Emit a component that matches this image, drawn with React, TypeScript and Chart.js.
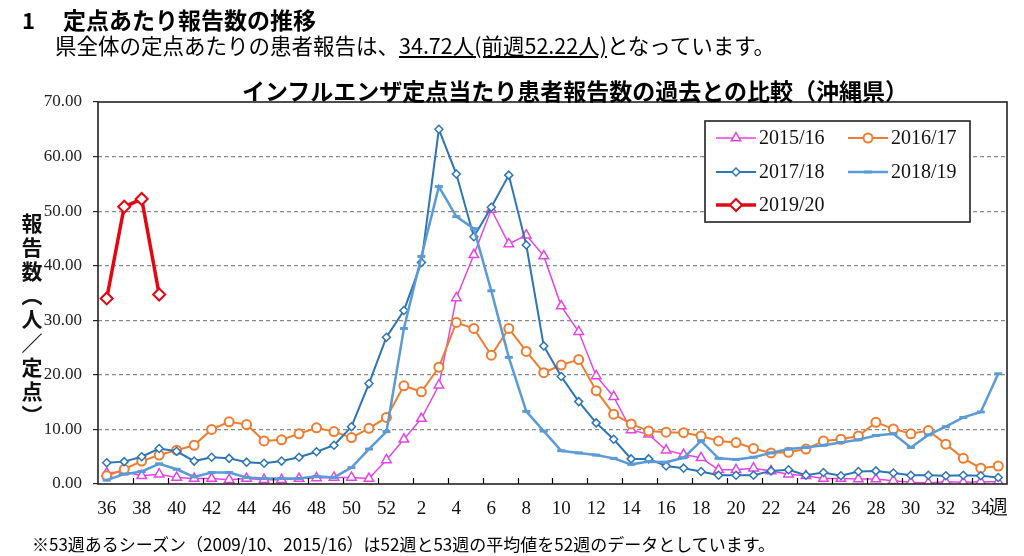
import React, { useEffect, useRef } from 'react';
import { Chart, registerables } from 'chart.js';

Chart.register(...registerables);

const weeks = [
  '36', '37', '38', '39', '40', '41', '42', '43', '44', '45', '46', '47', '48', '49', '50', '51', '52',
  '1', '2', '3', '4', '5', '6', '7', '8', '9', '10', '11', '12', '13', '14', '15', '16', '17', '18',
  '19', '20', '21', '22', '23', '24', '25', '26', '27', '28', '29', '30', '31', '32', '33', '34', '35',
];

const xTickLabels = [
  '36', '', '38', '', '40', '', '42', '', '44', '', '46', '', '48', '', '50', '', '52',
  '', '2', '', '4', '', '6', '', '8', '', '10', '', '12', '', '14', '', '16', '', '18',
  '', '20', '', '22', '', '24', '', '26', '', '28', '', '30', '', '32', '', '34', '週',
];

const season1516 = [
  2.0, 2.3, 1.5, 1.8, 1.2, 1.0, 1.0, 0.8, 1.0, 0.8, 0.8, 1.0, 1.1, 1.2, 1.2, 1.0, 4.4,
  8.2, 12.0, 18.1, 34.1, 42.0, 50.3, 44.0, 45.6, 41.8, 32.6, 27.9, 19.8, 16.0, 9.9, 9.1, 6.2, 5.4, 4.8,
  2.6, 2.6, 2.9, 2.4, 1.8, 1.5, 1.0, 1.0, 0.9, 0.9, 0.6, 0.3, 0.2, 0.4, 0.3, 0.4, 0.4,
];

const season1617 = [
  1.5, 2.7, 4.2, 5.3, 6.2, 7.1, 10.0, 11.4, 10.9, 7.9, 8.1, 9.2, 10.3, 9.6, 8.5, 10.2, 12.2,
  18.0, 16.9, 21.4, 29.6, 28.5, 23.6, 28.5, 24.3, 20.4, 21.8, 22.8, 17.1, 12.8, 11.0, 9.7, 9.5, 9.4, 8.8,
  7.9, 7.6, 6.5, 5.7, 5.8, 6.4, 7.9, 8.2, 8.8, 11.3, 10.1, 9.2, 9.8, 7.3, 4.7, 2.9, 3.3,
];

const season1718 = [
  3.9, 4.1, 5.0, 6.5, 6.0, 4.2, 4.9, 4.7, 4.0, 3.8, 4.2, 4.9, 5.9, 7.1, 10.5, 18.4, 26.9,
  31.8, 40.6, 65.0, 56.8, 45.3, 50.7, 56.6, 43.8, 25.3, 19.7, 15.1, 11.2, 8.2, 4.6, 4.6, 3.3, 2.9, 2.3,
  1.6, 1.6, 1.6, 2.4, 2.6, 1.6, 2.1, 1.5, 2.3, 2.4, 2.0, 1.6, 1.6, 1.5, 1.6, 1.5, 1.2,
];

const season1819 = [
  0.7, 1.8, 2.3, 3.7, 2.7, 1.3, 2.1, 2.1, 1.2, 1.0, 1.0, 1.0, 1.4, 1.2, 3.0, 6.4, 9.6,
  28.5, 41.7, 54.5, 49.0, 46.8, 35.4, 23.2, 13.3, 9.7, 6.1, 5.7, 5.3, 4.7, 3.6, 4.1, 4.0, 4.8, 7.9,
  4.7, 4.5, 4.9, 5.7, 6.4, 6.7, 7.1, 7.6, 8.1, 8.9, 9.2, 6.7, 9.0, 10.5, 12.2, 13.2, 20.2,
];

const season1920 = [34.0, 50.8, 52.22, 34.72];

const seriesNames = ['2015/16', '2016/17', '2017/18', '2018/19', '2019/20'];

const yTicks = [0, 10, 20, 30, 40, 50, 60, 70];

const SERIF = '"Liberation Serif", "Times New Roman", serif';
const JP = '"Noto Sans CJK JP", "Noto Sans", sans-serif';

function drawMarker(ctx: CanvasRenderingContext2D, style: string, x: number, y: number, r: number,
  fill: string, stroke: string, lw: number) {
  ctx.save();
  ctx.setLineDash([]);
  ctx.lineWidth = lw;
  ctx.strokeStyle = stroke;
  ctx.fillStyle = fill;
  ctx.beginPath();
  if (style === 'circle') {
    ctx.arc(x, y, r, 0, Math.PI * 2);
  } else if (style === 'triangle') {
    ctx.moveTo(x, y - r);
    ctx.lineTo(x + r * Math.sqrt(3) / 2, y + r / 2);
    ctx.lineTo(x - r * Math.sqrt(3) / 2, y + r / 2);
  } else if (style === 'rectRot') {
    ctx.moveTo(x - r, y);
    ctx.lineTo(x, y - r);
    ctx.lineTo(x + r, y);
    ctx.lineTo(x, y + r);
  } else if (style === 'line') {
    ctx.moveTo(x - r, y);
    ctx.lineTo(x + r, y);
  }
  if (style !== 'line') {
    ctx.closePath();
    ctx.fill();
  }
  ctx.stroke();
  ctx.restore();
}

const framePlugin = {
  id: 'frameAndLegend',
  afterDraw(chart: any) {
    const ctx: CanvasRenderingContext2D = chart.ctx;
    const area = chart.chartArea;
    const xs = chart.scales.x;
    ctx.save();
    ctx.setLineDash([]);
    const step = xs.getPixelForValue(1) - xs.getPixelForValue(0);
    ctx.strokeStyle = '#000';
    ctx.lineWidth = 1.2;
    for (let k = 2; k < weeks.length; k += 2) {
      const x = Math.round(xs.getPixelForValue(k) - step / 2) + 0.5;
      ctx.beginPath();
      ctx.moveTo(x, area.bottom);
      ctx.lineTo(x, area.bottom - 6);
      ctx.stroke();
    }
    ctx.lineWidth = 1.6;
    ctx.strokeStyle = '#222';
    ctx.strokeRect(area.left, area.top, area.right - area.left, area.bottom - area.top);

    const bx = 705, by = 121, bw = 265, bh = 101;
    ctx.fillStyle = '#fff';
    ctx.fillRect(bx, by, bw, bh);
    ctx.lineWidth = 1.6;
    ctx.strokeStyle = '#222';
    ctx.strokeRect(bx, by, bw, bh);

    const slots = [
      { x: 716, y: 138 }, { x: 848, y: 138 },
      { x: 716, y: 172 }, { x: 848, y: 172 },
      { x: 716, y: 205 },
    ];
    chart.data.datasets.forEach((ds: any, i: number) => {
      const s = slots[i];
      if (!s) return;
      ctx.save();
      ctx.strokeStyle = ds.borderColor;
      ctx.lineWidth = ds.borderWidth;
      ctx.beginPath();
      ctx.moveTo(s.x, s.y);
      ctx.lineTo(s.x + 40, s.y);
      ctx.stroke();
      ctx.restore();
      drawMarker(ctx, ds.pointStyle, s.x + 20, s.y, ds.pointRadius, ds.pointBackgroundColor,
        ds.pointBorderColor, ds.pointBorderWidth);
      ctx.fillStyle = '#111';
      ctx.font = '20px ' + SERIF;
      ctx.textBaseline = 'middle';
      ctx.textAlign = 'left';
      ctx.fillText(ds.label, s.x + 43, s.y + 1);
    });
    ctx.restore();
  },
};

export default function App() {
  const canvasRef = useRef<HTMLCanvasElement | null>(null);

  useEffect(() => {
    const canvas = canvasRef.current;
    if (!canvas) return;
    const makeDs = (label: string, data: (number | null)[], color: string, style: string,
      radius: number, lineW: number, pointW: number, filled: boolean, order: number) => ({
      label,
      data,
      borderColor: color,
      backgroundColor: color,
      borderWidth: lineW,
      pointStyle: style,
      pointRadius: radius,
      pointHoverRadius: radius,
      pointBackgroundColor: filled ? color : '#ffffff',
      pointBorderColor: color,
      pointBorderWidth: pointW,
      tension: 0,
      fill: false,
      spanGaps: false,
      order,
    });

    const chart = new Chart(canvas, {
      type: 'line',
      data: {
        labels: weeks,
        datasets: [
          makeDs(seriesNames[0], season1516, '#E246E2', 'triangle', 5.5, 1.5, 1.5, false, 4),
          makeDs(seriesNames[1], season1617, '#ED7D31', 'circle', 4.5, 2, 2, false, 3),
          makeDs(seriesNames[2], season1718, '#2E75B6', 'rectRot', 4, 2, 1.5, false, 2),
          makeDs(seriesNames[3], season1819, '#5B9BD5', 'line', 4, 2.5, 3, true, 1),
          makeDs(seriesNames[4], season1920, '#E30613', 'rectRot', 6, 3.5, 2, false, 0),
        ],
      },
      options: {
        responsive: false,
        animation: false,
        devicePixelRatio: 1,
        layout: { padding: { left: 0, top: 102, right: 17, bottom: 0 } },
        plugins: {
          legend: { display: false },
          title: { display: false },
          tooltip: { enabled: false },
        },
        scales: {
          x: {
            type: 'category',
            offset: true,
            grid: { display: false, drawTicks: false },
            border: { display: false },
            ticks: {
              autoSkip: false,
              maxRotation: 0,
              minRotation: 0,
              padding: 14,
              color: '#111',
              font: { family: '"Liberation Serif", "Noto Sans CJK JP", serif', size: 19 },
              callback: (_v: any, i: number) => xTickLabels[i],
            },
            afterFit: (scale: any) => { scale.height = 72; },
          },
          y: {
            min: yTicks[0],
            max: yTicks[yTicks.length - 1],
            afterBuildTicks: (scale: any) => { scale.ticks = yTicks.map((v) => ({ value: v })); },
            grid: {
              color: (c: any) => (c.tick && (c.tick.value === 0 || c.tick.value === 70)) ? 'rgba(0,0,0,0)' : '#8a8a8a',
              lineWidth: 1.2,
              drawTicks: true,
              tickLength: 5,
              tickColor: '#222',
            },
            border: { display: false, dash: [4, 3] },
            ticks: {
              padding: 11,
              color: '#222',
              font: { family: SERIF, size: 17 },
              callback: (v: any) => Number(v).toFixed(2),
            },
            afterFit: (scale: any) => { scale.width = 98; },
          },
        },
      },
      plugins: [framePlugin],
    } as any);
    return () => chart.destroy();
  }, []);

  const abs = (extra: React.CSSProperties): React.CSSProperties => ({ position: 'absolute', whiteSpace: 'nowrap', ...extra });

  return (
    <div style={{ position: 'absolute', left: 0, top: 0, width: 1024, height: 556, background: '#fff', overflow: 'hidden' }}>
      <canvas ref={canvasRef} width={1024} height={556} style={{ position: 'absolute', left: 0, top: 0, width: 1024, height: 556 }} />
      <div style={abs({ left: 22, top: 6, fontFamily: JP, fontWeight: 700, fontSize: 22, lineHeight: '26px', color: '#000' })}>1</div>
      <div style={abs({ left: 63, top: 6, fontFamily: JP, fontWeight: 700, fontSize: 23, lineHeight: '26px', color: '#000' })}>定点あたり報告数の推移</div>
      <div style={abs({ left: 55, top: 32, fontFamily: JP, fontSize: 21.5, lineHeight: '26px', color: '#000' })}>
        県全体の定点あたりの患者報告は、<span style={{ textDecoration: 'underline' }}>34.72人(前週52.22人)</span>となっています。
      </div>
      <div style={abs({ left: 0, width: 1150, top: 77, textAlign: 'center', fontFamily: JP, fontWeight: 700, fontSize: 23, lineHeight: '26px', color: '#000' })}>インフルエンザ定点当たり患者報告数の過去との比較（沖縄県）</div>
      <div style={abs({ left: 20, top: 213, writingMode: 'vertical-rl', fontFamily: JP, fontWeight: 700, fontSize: 21, letterSpacing: 3, lineHeight: '24px', color: '#111' })}>報告数（人／定点）</div>
      <div style={abs({ left: 32, top: 533, fontFamily: JP, fontSize: 17, lineHeight: '21px', color: '#000' })}>※53週あるシーズン（2009/10、2015/16）は52週と53週の平均値を52週のデータとしています。</div>
    </div>
  );
}
